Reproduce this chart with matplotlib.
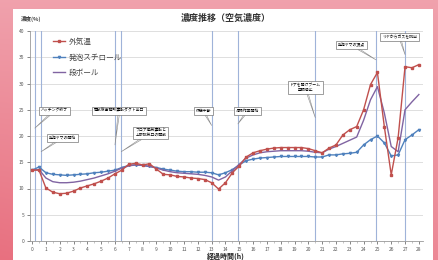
import numpy as np
import matplotlib
matplotlib.use("Agg")
import matplotlib.pyplot as plt
from matplotlib.patches import Rectangle

plt.rcParams['font.family'] = ['Noto Sans CJK JP', 'DejaVu Sans']

# elapsed time (h), every half hour
hours = np.arange(0, 28.5, 0.5)

outside = [13.5, 13.5, 10.1, 9.3, 9.0, 9.1, 9.5, 10.1, 10.5, 10.9,
           11.4, 12.0, 12.8, 13.5, 14.6, 14.8, 14.5, 14.7, 13.7, 12.7,
           12.6, 12.3, 12.2, 12.0, 11.9, 11.7, 11.1, 9.9, 11.1, 13.0,
           14.3, 16.0, 16.8, 17.2, 17.5, 17.7, 17.8, 17.8, 17.8, 17.8,
           17.6, 17.2, 16.8, 17.7, 18.3, 20.2, 21.2, 21.8, 25.0, 29.8,
           32.1, 21.8, 12.6, 19.7, 33.2, 33.0, 33.6]

styro = [13.5, 14.1, 13.0, 12.7, 12.6, 12.5, 12.6, 12.7, 12.8, 13.0,
         13.1, 13.3, 13.5, 14.0, 14.4, 14.5, 14.4, 14.2, 14.0, 13.7,
         13.5, 13.3, 13.2, 13.2, 13.1, 13.1, 13.0, 12.6, 13.0, 13.6,
         14.5, 15.3, 15.6, 15.8, 15.9, 16.0, 16.1, 16.1, 16.1, 16.1,
         16.1, 16.0, 16.0, 16.4, 16.4, 16.6, 16.7, 16.9, 18.3, 19.3,
         20.0, 18.7, 16.2, 16.4, 19.3, 20.2, 21.2]

cardboard = [13.5, 13.6, 12.0, 11.3, 11.1, 11.1, 11.2, 11.4, 11.7, 12.0,
             12.4, 12.8, 13.3, 13.9, 14.3, 14.5, 14.4, 14.2, 13.9, 13.5,
             13.2, 13.0, 12.9, 12.8, 12.7, 12.5, 12.2, 11.6, 12.2, 13.4,
             14.6, 15.8, 16.4, 16.8, 17.0, 17.1, 17.2, 17.2, 17.2, 17.2,
             17.1, 16.9, 16.8, 17.5, 18.0, 18.6, 19.2, 19.8, 23.0, 26.9,
             29.4, 24.4, 18.0, 17.0, 25.0, 26.5, 27.9]

series_names = ['外気温', '発泡スチロール', '段ボール']

event_hours = [0.2, 0.65, 6.0, 6.45, 13.0, 14.9, 20.5, 24.9, 27.0]

notes = ['ハッチング終了', '発泡ヤマの開始', '開放後事務所運転ダクト出口',
         'フロア換気運転と\n上部排気口の開放', '休憩中断', '清掃作業開始',
         'ドアを開けブーム\n空調停止', '発泡ヤマの頂点', 'リヤからガスを排出']
note_xy = [(1.6, 24.8), (2.2, 19.7), (6.3, 24.8), (8.6, 20.6), (12.4, 24.8),
           (15.6, 24.8), (19.8, 29.2), (23.1, 37.4), (26.6, 38.9)]
note_tip = [(0.2, 21.5), (0.65, 17.0), (6.0, 18.3), (6.45, 17.0), (13.0, 22.0),
            (14.9, 22.3), (20.5, 23.5), (24.9, 34.5), (27.0, 35.5)]

fig = plt.figure(figsize=(4.39, 2.6), dpi=100)

# pink gradient background
bg = fig.add_axes([0, 0, 1, 1], zorder=-10)
gx = np.linspace(0, 1, 200)[None, :]
gy = np.linspace(0, 1, 120)[:, None]
c_top = np.array([0.95, 0.68, 0.72])
c_low = np.array([0.91, 0.44, 0.50])
w = (0.2 + 0.8 * gy * (1 - 0.5 * gx))[..., None]
img = c_top * (1 - w) + c_low * w
bg.imshow(img, aspect='auto', extent=[0, 1, 0, 1])
bg.axis('off')

fig.patches.append(Rectangle((13 / 439, 0), 420 / 439, 251 / 260,
                             transform=fig.transFigure, facecolor='white',
                             edgecolor='none', zorder=-5))

ax = fig.add_axes([30 / 439, 19 / 260, 393 / 439, 210 / 260])
ax.set_facecolor('none')

for h in event_hours:
    ax.axvline(h, color='#9fb3d9', lw=0.8, zorder=1)

ax.plot(hours, outside, color='#c0504d', lw=1.0, marker='s', ms=1.8,
        label=series_names[0], zorder=4)
ax.plot(hours, styro, color='#4f81bd', lw=1.0, marker='v', ms=1.6,
        label=series_names[1], zorder=3)
ax.plot(hours, cardboard, color='#8064a2', lw=1.0,
        label=series_names[2], zorder=3)

for txt, xy, tip in zip(notes, note_xy, note_tip):
    ax.annotate(txt, xy=tip, xytext=xy, fontsize=2.8, ha='center', va='center',
                linespacing=1.1, zorder=6,
                bbox=dict(boxstyle='square,pad=0.5', fc='white', ec='#777777', lw=0.5),
                arrowprops=dict(arrowstyle='wedge,tail_width=0.35', fc='white',
                                ec='#888888', lw=0.4, shrinkA=0, shrinkB=0))

ax.set_xlim(-0.15, 28.3)
ax.set_ylim(0, 40)
ax.set_xticks(range(0, 29))
ax.set_xticks(np.arange(0.5, 28.5, 0.5), minor=True)
ax.set_yticks(range(0, 45, 5))
ax.grid(axis='y', color='#d9d9d9', lw=0.6)
ax.set_axisbelow(True)
ax.tick_params(labelsize=3.5, colors='#555555', length=2, width=0.5, pad=2)
ax.tick_params(which='minor', length=1.2, width=0.4, color='#999999')
for side in ['top', 'right']:
    ax.spines[side].set_visible(False)
for side in ['left', 'bottom']:
    ax.spines[side].set_color('#999999')
    ax.spines[side].set_linewidth(0.6)

ax.legend(loc='upper left', bbox_to_anchor=(0.04, 1.0), frameon=False,
          fontsize=5.5, labelspacing=1.0, handlelength=1.6, handletextpad=0.5,
          labelcolor='#444444')

fig.text(226 / 439, 1 - 18 / 260, '濃度推移（空気濃度）', ha='center', va='center',
         fontsize=6.5, fontweight='bold', color='#333333')
fig.text(21 / 439, 1 - 19 / 260, '濃度(%)', ha='left', va='center',
         fontsize=4, fontweight='bold', color='#444444')
fig.text(226 / 439, 0.5 / 260, '経過時間(h)', ha='center', va='bottom',
         fontsize=5, fontweight='bold', color='#222222')

fig.savefig('out.png', dpi=100)
